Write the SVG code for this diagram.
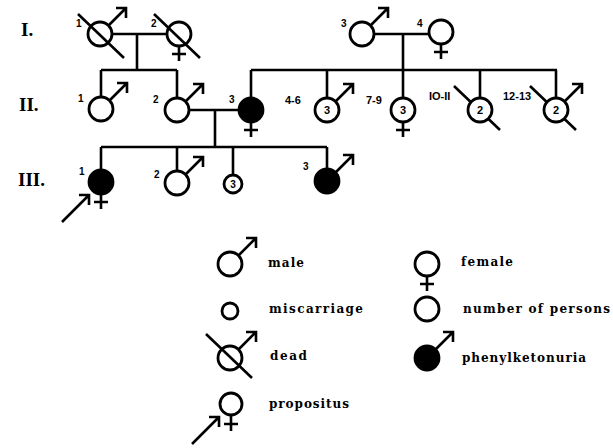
<svg xmlns="http://www.w3.org/2000/svg" xmlns:xlink="http://www.w3.org/1999/xlink" width="613" height="448" viewBox="0 0 613 448">
<style>
.c{fill:#fff;stroke:#000;stroke-width:2.8}
.f{fill:#000;stroke:#000;stroke-width:2.8}
.l{fill:none;stroke:#000;stroke-width:2.6;stroke-linecap:butt}
.gen{font-family:"Liberation Serif",serif;font-weight:bold;font-size:19px}
.n{font-family:"Liberation Sans",sans-serif;font-weight:bold;font-size:10px}
.nn{font-family:"Liberation Sans",sans-serif;font-weight:bold;font-size:11px}
.in{font-family:"Liberation Sans",sans-serif;font-weight:bold;font-size:11px;text-anchor:middle}
.lg{font-family:"DejaVu Serif",serif;font-weight:bold;font-size:12px}
</style>
<defs>
<path id="ma" class="l" d="M8.5,-8.5 L26,-26 M16,-26 L26,-26 L26,-16"/>
<path id="fc" class="l" d="M0,12 L0,27 M-7,20 L7,20"/>
<path id="dd" class="l" d="M-24,-22 L22,22"/>
<path id="pa" class="l" d="M-39,40 L-12,13 M-22,13 L-12,13 L-12,23"/>
</defs>
<g id="labels">
<text class="gen" x="21" y="36">I.</text>
<text class="gen" x="19" y="111">II.</text>
<text class="gen" x="18" y="186">III.</text>
</g>
<g id="connectors">
<path class="l" d="M112,34 H167 M137,34 V70 M101,70 H177 M101,70 V97 M177,70 V98"/>
<path class="l" d="M374,34 H429 M403,34 V98 M251,70 H557 M251,70 V98 M327,70 V98 M480,70 V98 M556,70 V98"/>
<path class="l" d="M190,110 H238 M215,110 V147 M101,147 H327 M101,147 V170 M177,147 V171 M233,147 V175 M327,147 V169"/>
</g>
<g id="I1"><circle class="c" cx="100" cy="34" r="12"/><use xlink:href="#ma" x="100" y="34"/><use xlink:href="#dd" x="102" y="36"/><text class="n" x="76" y="27">1</text></g>
<g id="I2"><circle class="c" cx="179" cy="34" r="12"/><use xlink:href="#fc" x="179" y="34"/><use xlink:href="#dd" x="178" y="36"/><text class="n" x="151" y="27">2</text></g>
<g id="I3"><circle class="c" cx="362" cy="34" r="12"/><use xlink:href="#ma" x="362" y="34"/><text class="n" x="341" y="27">3</text></g>
<g id="I4"><circle class="c" cx="441" cy="32" r="12"/><use xlink:href="#fc" x="441" y="32"/><text class="n" x="417" y="27">4</text></g>
<g id="II1"><circle class="c" cx="101" cy="109" r="12"/><use xlink:href="#ma" x="101" y="109"/><text class="n" x="78" y="102">1</text></g>
<g id="II2"><circle class="c" cx="177" cy="110" r="12"/><use xlink:href="#ma" x="177" y="110"/><text class="n" x="153" y="103">2</text></g>
<g id="II3"><circle class="f" cx="251" cy="110" r="12"/><use xlink:href="#fc" x="251" y="110"/><text class="n" x="229" y="103">3</text></g>
<g id="II4-6"><circle class="c" cx="327" cy="110" r="12"/><use xlink:href="#ma" x="327" y="110"/><text class="in" x="327" y="114">3</text><text class="nn" x="285" y="104">4-6</text></g>
<g id="II7-9"><circle class="c" cx="403" cy="110" r="12"/><use xlink:href="#fc" x="403" y="110"/><text class="in" x="403" y="114">3</text><text class="nn" x="366" y="104">7-9</text></g>
<g id="II10-11"><use xlink:href="#dd" x="478" y="108"/><circle class="c" cx="480" cy="110" r="12"/><text class="in" x="480" y="114">2</text><text class="nn" x="429" y="100">IO-II</text></g>
<g id="II12-13"><use xlink:href="#dd" x="554" y="108"/><circle class="c" cx="556" cy="110" r="12"/><use xlink:href="#ma" x="556" y="110"/><text class="in" x="556" y="114">2</text><text class="nn" x="503" y="100">12-13</text></g>
<g id="III1"><circle class="f" cx="101" cy="182" r="12"/><use xlink:href="#fc" x="101" y="182"/><use xlink:href="#pa" x="101" y="182"/><text class="n" x="79" y="175">1</text></g>
<g id="III2"><circle class="c" cx="177" cy="183" r="12"/><use xlink:href="#ma" x="177" y="183"/><text class="n" x="154" y="178">2</text></g>
<g id="III-m"><circle class="c" cx="233" cy="184" r="9"/><text class="in" x="233" y="188" style="font-size:10px">3</text></g>
<g id="III3"><circle class="f" cx="327" cy="181" r="12"/><use xlink:href="#ma" x="327" y="181"/><text class="n" x="303" y="170">3</text></g>
<g id="legend">
<circle class="c" cx="230" cy="264" r="12"/><use xlink:href="#ma" x="230" y="264"/>
<text class="lg" x="268" y="267" textLength="36" lengthAdjust="spacing">male</text>
<circle class="c" cx="230" cy="311" r="8"/>
<text class="lg" x="269" y="313" textLength="94" lengthAdjust="spacing">miscarriage</text>
<circle class="c" cx="230" cy="358" r="12"/><use xlink:href="#ma" x="230" y="358"/><use xlink:href="#dd" x="230" y="356"/>
<text class="lg" x="270" y="360" textLength="37" lengthAdjust="spacing">dead</text>
<circle class="c" cx="231" cy="404" r="11"/><use xlink:href="#fc" x="231" y="404"/><use xlink:href="#pa" x="231" y="404"/>
<text class="lg" x="269" y="408" textLength="80" lengthAdjust="spacing">propositus</text>
<circle class="c" cx="427" cy="264" r="12"/><use xlink:href="#fc" x="427" y="264"/>
<text class="lg" x="461" y="266" textLength="52" lengthAdjust="spacing">female</text>
<circle class="c" cx="427" cy="309" r="12"/>
<text class="lg" x="463" y="313" textLength="147" lengthAdjust="spacing">number of persons</text>
<circle class="f" cx="427" cy="358" r="12"/><use xlink:href="#ma" x="427" y="358"/>
<text class="lg" x="462" y="362" textLength="124" lengthAdjust="spacing">phenylketonuria</text>
</g>
</svg>
